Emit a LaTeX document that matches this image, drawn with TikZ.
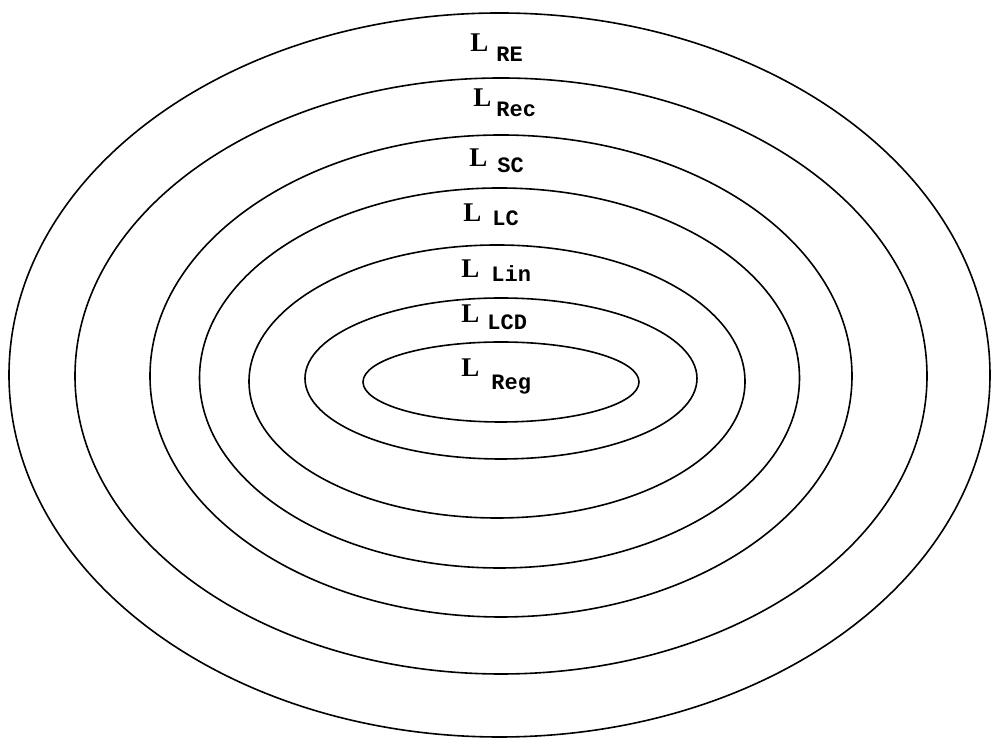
\documentclass[tikz,border=0pt]{standalone}
\usepackage{fontspec}
\setmainfont{Liberation Serif}
\setmonofont{Liberation Mono}
\usepackage{tikz}
\newcommand{\lsub}[3]{\textbf{L}\hspace*{#1}\raisebox{-#2}{\fontsize{11}{11}\selectfont\ttfamily\bfseries #3}}

\begin{document}
\begin{tikzpicture}[x=0.5pt,y=0.5pt,ring/.style={draw,line width=0.8pt},lang/.style={anchor=base west,inner sep=0pt,font=\fontsize{13.5}{13.5}\selectfont}]
\useasboundingbox (0,0) rectangle (991,738);
\draw[ring](499.5,363) ellipse [x radius=490.5,y radius=362];
\draw[ring](501,362) ellipse [x radius=426,y radius=298];
\draw[ring](501,362) ellipse [x radius=351,y radius=241];
\draw[ring](499.5,360) ellipse [x radius=300,y radius=190];
\draw[ring](497,356.5) ellipse [x radius=248,y radius=136.5];
\draw[ring](501,359.5) ellipse [x radius=196,y radius=80.5];
\draw[ring](501,356) ellipse [x radius=138,y radius=40];
\node[lang](re) at (470,686){\lsub{4pt}{5pt}{RE}};
\node[lang](rec) at (473,631){\lsub{2.5pt}{5pt}{Rec}};
\node[lang](sc) at (469,571){\lsub{5pt}{3pt}{SC}};
\node[lang](lc) at (463,516){\lsub{5.5pt}{2pt}{LC}};
\node[lang](lin) at (461,460){\lsub{6pt}{2pt}{Lin}};
\node[lang](lcd) at (461,415){\lsub{4pt}{3.5pt}{LCD}};
\node[lang](reg) at (461,361){\lsub{6pt}{6.5pt}{Reg}};
\end{tikzpicture}
\end{document}
